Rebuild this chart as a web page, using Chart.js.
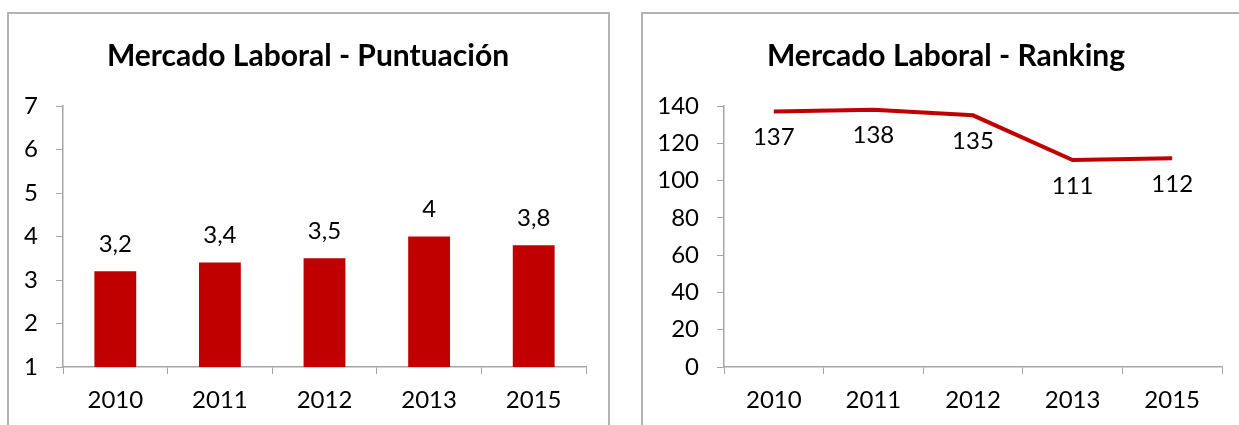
<!DOCTYPE html>
<html lang="es">
<head>
  <meta charset="UTF-8">
  <title>Mercado Laboral</title>
  <style>
    body {
      margin: 0;
      background: #fff;
      overflow: hidden;
      width: 1239px;
      height: 425px;
      position: relative;
    }
    .marco {
      position: absolute;
      border: 2px solid #b3b3b3;
      box-sizing: border-box;
    }
    #marco1 { left: 7px; top: 12px; width: 603px; height: 440px; }
    #marco2 { left: 641px; top: 12px; width: 640px; height: 440px; }
    canvas { position: absolute; top: 0; }
    #puntuacion { left: 0; }
    #ranking { left: 630px; }
  </style>
</head>
<body>
  <div class="marco" id="marco1"></div>
  <div class="marco" id="marco2"></div>
  <canvas id="puntuacion" width="616" height="425"></canvas>
  <canvas id="ranking" width="632" height="425"></canvas>

  <script src="https://cdn.jsdelivr.net/npm/chart.js"></script>
  <script>
    // datos
    const anios = ['2010', '2011', '2012', '2013', '2015'];
    const puntuacion = [3.2, 3.4, 3.5, 4, 3.8];
    const ranking = [137, 138, 135, 111, 112];
    const ticksPuntuacion = { min: 1, max: 7, paso: 1 };
    const ticksRanking = { min: 0, max: 140, paso: 20 };

    const rojo = '#c00000';
    const gris = '#a6a6a6';
    const fuente = 'Lato, "Open Sans", sans-serif';

    Chart.defaults.font.family = fuente;
    Chart.defaults.color = '#000';

    function formato(v) {
      return String(v).replace('.', ',');
    }

    // etiquetas de valor encima/debajo de cada punto
    const etiquetas = {
      id: 'etiquetas',
      afterDatasetsDraw(chart, args, opts) {
        const ctx = chart.ctx;
        const meta = chart.getDatasetMeta(0);
        const datos = chart.data.datasets[0].data;
        ctx.save();
        ctx.font = '24px ' + fuente;
        ctx.fillStyle = '#000';
        ctx.textAlign = 'center';
        ctx.textBaseline = 'middle';
        meta.data.forEach((el, i) => {
          ctx.fillText(formato(datos[i]), el.x, el.y + opts.dy);
        });
        ctx.restore();
      }
    };

    // margen derecho como eje vacio, para que el titulo quede centrado en el marco
    function ejes(anchoY, margenDer, t) {
      return {
        x: {
          offset: true,
          grid: { offset: true, drawOnChartArea: false, color: gris, tickLength: 7 },
          border: { color: gris, width: 1.5 },
          ticks: { font: { size: 24 }, padding: 12, maxRotation: 0 },
          afterFit(s) { s.height = 58; }
        },
        y: {
          min: t.min,
          max: t.max,
          grid: { drawOnChartArea: false, color: gris, tickLength: 7 },
          border: { color: gris, width: 1.5 },
          ticks: { stepSize: t.paso, font: { size: 24 }, padding: 18 },
          afterFit(s) { s.width = anchoY; }
        },
        margen: {
          position: 'right',
          grid: { display: false },
          border: { display: false },
          ticks: { display: false },
          afterFit(s) { s.width = margenDer; }
        }
      };
    }

    function titulo(texto) {
      return {
        display: true,
        text: texto,
        font: { size: 30, weight: 'bold' },
        color: '#000',
        padding: { top: 38, bottom: 32 }
      };
    }

    new Chart(document.getElementById('puntuacion'), {
      type: 'bar',
      data: {
        labels: anios,
        datasets: [{
          data: puntuacion,
          backgroundColor: rojo,
          categoryPercentage: 1,
          barPercentage: 0.4
        }]
      },
      options: {
        responsive: false,
        animation: false,
        layout: { padding: 0 },
        scales: ejes(63, 30, ticksPuntuacion),
        plugins: {
          legend: { display: false },
          tooltip: { enabled: false },
          title: titulo('Mercado Laboral - Puntuación'),
          etiquetas: { dy: -27 }
        }
      },
      plugins: [etiquetas]
    });

    new Chart(document.getElementById('ranking'), {
      type: 'line',
      data: {
        labels: anios,
        datasets: [{
          data: ranking,
          borderColor: rojo,
          borderWidth: 4,
          pointRadius: 0,
          tension: 0,
          fill: false
        }]
      },
      options: {
        responsive: false,
        animation: false,
        layout: { padding: 0 },
        scales: ejes(94, 40, ticksRanking),
        plugins: {
          legend: { display: false },
          tooltip: { enabled: false },
          title: titulo('Mercado Laboral - Ranking'),
          etiquetas: { dy: 26 }
        }
      },
      plugins: [etiquetas]
    });
  </script>
</body>
</html>
